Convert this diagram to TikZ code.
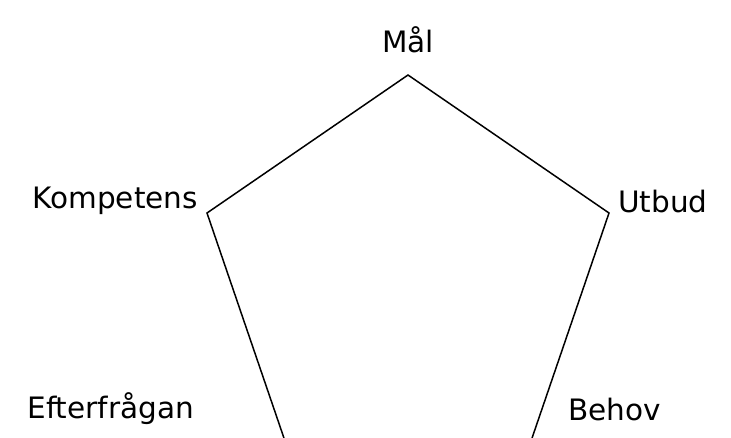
\documentclass[tikz,border=0pt]{standalone}
\usepackage{fontspec}
\setmainfont{DejaVu Sans}

\begin{document}
\begin{tikzpicture}[
  x=1pt, y=-1pt,
  corner/.style={inner sep=0pt, font=\fontsize{29.5}{34}\selectfont},
  side/.style={draw=black, line width=1.5pt, line join=miter}
]
  \useasboundingbox (0,0) rectangle (731,437);
  \clip (0,0) rectangle (731,437);

  % Pentagon corners (bottom two fall below the frame)
  \coordinate (top) at (408,75);
  \coordinate (left) at (207,213);
  \coordinate (right) at (609,213);
  \coordinate (botleft) at (286,444);
  \coordinate (botright) at (530,444);
  \draw[side] (top)--(right)--(botright)--(botleft)--(left)--cycle;

  % Labels at the corners
  \node[corner] (mal) at (408,40) {Mål};
  \node[corner, anchor=east] (kompetens) at (198,201) {Kompetens};
  \node[corner, anchor=west] (utbud) at (618,201) {Utbud};
  \node[corner, anchor=east] (efterfragan) at (194,409) {Efterfrågan};
  \node[corner, anchor=west] (behov) at (568,409) {Behov};
\end{tikzpicture}
\end{document}
